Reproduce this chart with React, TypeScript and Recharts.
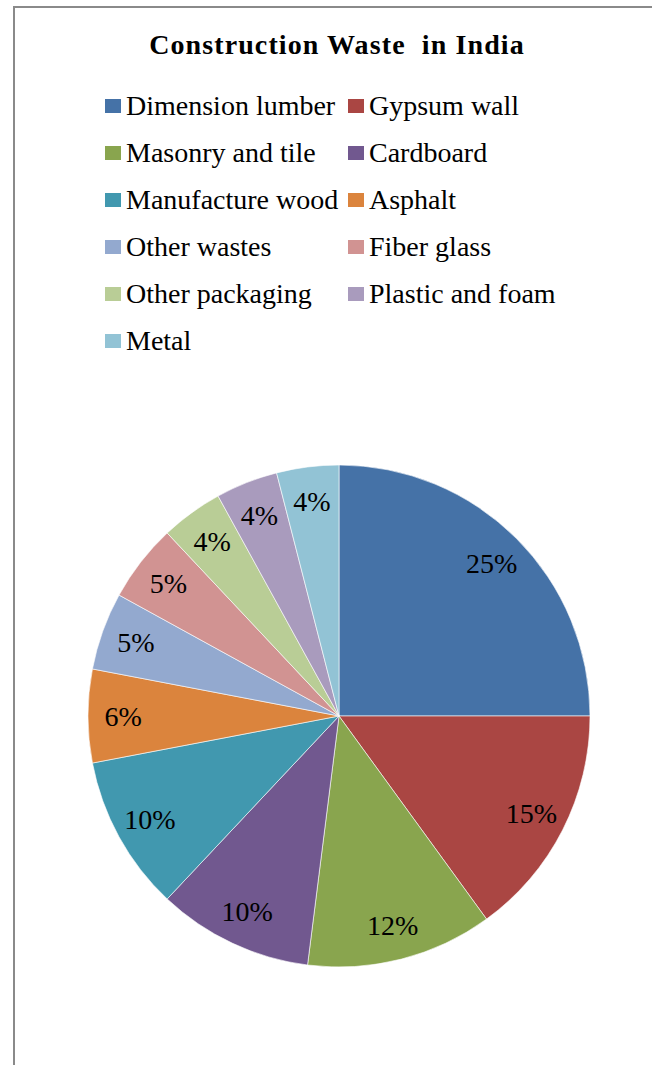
import { PieChart, Pie, Cell, Legend } from 'recharts';

// Share of construction waste by material, in percent
const materials = [
  'Dimension lumber',
  'Gypsum wall',
  'Masonry and tile',
  'Cardboard',
  'Manufacture wood',
  'Asphalt',
  'Other wastes',
  'Fiber glass',
  'Other packaging',
  'Plastic and foam',
  'Metal',
];
const shares = [25, 15, 12, 10, 10, 6, 5, 5, 4, 4, 4];
const colors = [
  '#4572A7',
  '#AA4643',
  '#89A54E',
  '#71588F',
  '#4198AF',
  '#DB843D',
  '#93A9CF',
  '#D19392',
  '#B9CD96',
  '#A99BBD',
  '#92C3D5',
];

const data = materials.map((name, i) => ({ name, value: shares[i] }));

const FONT = '"Liberation Serif", "Times New Roman", serif';
const RAD = Math.PI / 180;

// Percentage printed inside each slice, a bit in from the rim
const renderLabel = (props: any) => {
  const { cx, cy, midAngle, outerRadius, value } = props;
  const r = outerRadius * 0.86;
  const x = cx + r * Math.cos(-midAngle * RAD);
  const y = cy + r * Math.sin(-midAngle * RAD);
  return (
    <text
      x={x}
      y={y}
      fill="#000"
      textAnchor="middle"
      dominantBaseline="central"
      fontFamily={FONT}
      fontSize={28}
    >
      {`${value}%`}
    </text>
  );
};

// Two-column legend with square swatches, kept in data order
const renderLegend = () => (
  <div style={{ position: 'relative', width: 652, height: 370 }}>
    {materials.map((name, i) => {
      const col = i % 2;
      const row = Math.floor(i / 2);
      return (
        <div
          key={name}
          style={{
            position: 'absolute',
            left: col === 0 ? 105 : 348,
            top: 106 + row * 47 - 18,
            height: 36,
            display: 'flex',
            alignItems: 'center',
            whiteSpace: 'nowrap',
          }}
        >
          <span
            style={{
              display: 'inline-block',
              width: 16,
              height: 14,
              background: colors[i],
              marginRight: 5,
            }}
          />
          <span style={{ fontFamily: FONT, fontSize: 28, color: '#000', lineHeight: '36px' }}>
            {name}
          </span>
        </div>
      );
    })}
  </div>
);

export default function App() {
  return (
    <div
      style={{
        position: 'absolute',
        left: 0,
        top: 0,
        width: 652,
        height: 1065,
        background: '#fff',
        overflow: 'hidden',
      }}
    >
      <div
        style={{
          position: 'absolute',
          left: 13,
          top: 6,
          width: 700,
          height: 1100,
          borderLeft: '2px solid #8a8a8a',
          borderTop: '2px solid #8a8a8a',
        }}
      />
      <div
        style={{
          position: 'absolute',
          left: 0,
          top: 27,
          width: 674,
          textAlign: 'center',
          fontFamily: FONT,
          fontWeight: 'bold',
          fontSize: 28,
          letterSpacing: 1.1,
          lineHeight: '36px',
          color: '#000',
          whiteSpace: 'pre',
        }}
      >
        {'Construction Waste  in India'}
      </div>
      <div style={{ position: 'absolute', left: 0, top: 0 }}>
        <PieChart width={652} height={1065} margin={{ top: 0, right: 0, bottom: 0, left: 0 }}>
          <Legend
            content={renderLegend}
            wrapperStyle={{ position: 'absolute', top: 0, left: 0, width: 652 }}
          />
          <Pie
            data={data}
            dataKey="value"
            nameKey="name"
            cx={339}
            cy={716}
            outerRadius={251}
            startAngle={90}
            endAngle={-270}
            stroke="#fff"
            strokeWidth={0.6}
            label={renderLabel}
            labelLine={false}
            isAnimationActive={false}
          >
            {data.map((d, i) => (
              <Cell key={d.name} fill={colors[i]} />
            ))}
          </Pie>
        </PieChart>
      </div>
    </div>
  );
}
